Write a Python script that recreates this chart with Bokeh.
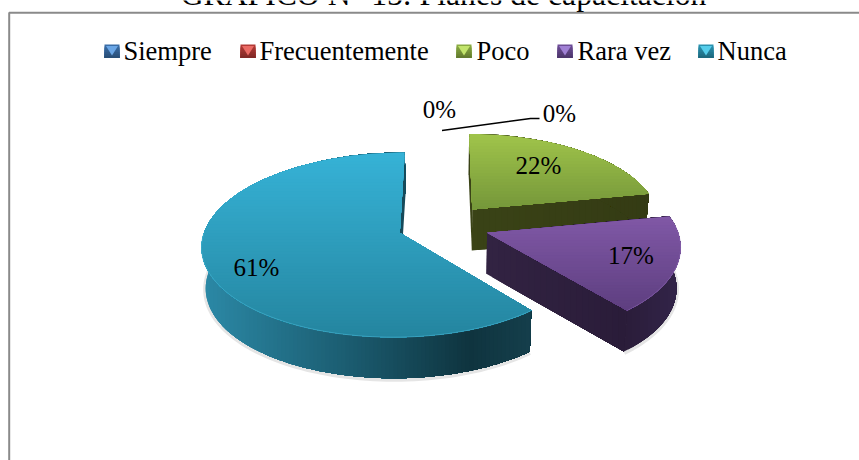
import math
from bokeh.plotting import figure
from bokeh.models import Range1d
from bokeh.embed import file_html
from bokeh.resources import INLINE
from bokeh.core.properties import value

TITLE = "GRAFICO N° 15: Planes de capacitación"
categories = ["Siempre", "Frecuentemente", "Poco", "Rara vez", "Nunca"]
percent = [0, 0, 22, 17, 61]
legend_base = ["#3a6ea8", "#b43a36", "#8aab42", "#6d4d96", "#2a93b0"]
legend_light = ["#6aa6e6", "#ea6a64", "#c2e46c", "#a080d4", "#55cdea"]
legend_x = [104, 240, 456, 557, 698]
text_x = [123, 259, 476, 577, 717]
top_stops = {
    "Poco": [(134, "#9fc34a"), (205, "#76983a")],
    "Rara vez": [(215, "#8058a6"), (310, "#5d3e7f")],
    "Nunca": [(152, "#36b2d6"), (340, "#24849e")],
}
wall_stops = {
    "Poco": [(460, "#3a4316"), (650, "#343b14")],
    "Rara vez": [(485, "#322342"), (620, "#2a1c39"), (682, "#33254a")],
    "Nunca": [(204, "#2b88a5"), (346, "#1b5c70"), (467, "#0f343f"), (530, "#153f4c")],
}
label_pos = {"Poco": (538, 173), "Rara vez": (630.5, 263), "Nunca": (256, 275)}

# perspective model of the pie
CX, CY, A, B, K, EXPLODE, DEPTH, SHRINK = 443.5, 225, 89, 189, 0.128, 0.24, 41, 0.983
LEFT_STRETCH = 1.025
BASE_SHIFT = 0.33  # em, offset of the page's alphabetic text baseline


def project(u, v, low=False):
    w = 1 + K * v
    x, y = CX + B * u * (LEFT_STRETCH if u < 0 else 1) / w, CY - A * v / w
    if low:
        x, y = CX + (x - CX) * SHRINK, y + DEPTH
    return x, y


def hexrgb(c):
    return tuple(int(c[i:i + 2], 16) for i in (1, 3, 5))


def ramp(stops, t):
    if t <= stops[0][0]:
        return stops[0][1]
    for (a, ca), (b, cb) in zip(stops, stops[1:]):
        if t <= b:
            f = (t - a) / (b - a)
            r = [round(p + (q - p) * f) for p, q in zip(hexrgb(ca), hexrgb(cb))]
            return "#%02x%02x%02x" % tuple(r)
    return stops[-1][1]


def clip(poly, axis, level):
    out = []
    for i, p in enumerate(poly):
        q = poly[(i + 1) % len(poly)]
        pin, qin = p[axis] >= level, q[axis] >= level
        if pin:
            out.append(p)
        if pin != qin:
            f = (level - p[axis]) / (q[axis] - p[axis])
            out.append((p[0] + (q[0] - p[0]) * f, p[1] + (q[1] - p[1]) * f))
    return out


p = figure(width=859, height=460, output_backend="svg", toolbar_location=None,
           x_range=Range1d(0, 859), y_range=Range1d(460, 0), min_border=0,
           outline_line_color=None, background_fill_color="white")
p.axis.visible = False
p.grid.visible = False

xs, ys, fills = [], [], []


def add(poly, col):
    xs.append([a for a, _ in poly])
    ys.append([b for _, b in poly])
    fills.append(col)


def banded(poly, axis, stops, step):
    vals = [q[axis] for q in poly]
    lo, hi = min(vals), max(vals)
    add(poly, ramp(stops, lo))
    t = lo + step
    while t < hi:
        c = clip(poly, axis, t)
        if len(c) >= 3:
            add(c, ramp(stops, t))
        t += step


slices = []
acc = 0.0
for name, pct in zip(categories, percent):
    a0, a1 = acc * 3.6, (acc + pct) * 3.6
    acc += pct
    if pct:
        slices.append((name, pct, math.radians(a0), math.radians(a1)))

rims = []
shadows = []
for name, pct, a0, a1 in slices:
    mid = (a0 + a1) / 2
    ox, oy = EXPLODE * math.sin(mid), EXPLODE * math.cos(mid)
    n = max(12, int(pct * 2))
    pts = [(ox + math.sin(a0 + (a1 - a0) * i / n), oy + math.cos(a0 + (a1 - a0) * i / n)) for i in range(n + 1)]
    top_arc = [project(u, v) for u, v in pts]
    low_arc = [project(u, v, True) for u, v in pts]
    apex_t, apex_l = project(ox, oy), project(ox, oy, True)
    shadows.append(low_arc)
    # cut faces, outer wall, then the top face over them
    banded([apex_t, top_arc[0], low_arc[0], apex_l], 0, wall_stops[name], 6)
    banded([apex_t, top_arc[-1], low_arc[-1], apex_l], 0, wall_stops[name], 6)
    banded(top_arc + low_arc[::-1], 0, wall_stops[name], 4)
    banded([apex_t] + top_arc, 1, top_stops[name], 3)
    rims.append((name, top_arc))

for arc in shadows:
    p.line([a for a, _ in arc], [b + 1 for _, b in arc], line_color="#000000", line_alpha=0.10, line_width=5)
p.patches(xs, ys, fill_color=fills, line_color=None)

# soft highlight along the visible front rim
for name, arc in rims:
    front = [q for q in arc if q[1] > CY + 5 or name != "Nunca"]
    if name == "Nunca":
        p.line([a for a, _ in front], [b for _, b in front], line_color="#46b4d2", line_alpha=0.6, line_width=1)
    if name == "Rara vez":
        p.line([a for a, _ in arc], [b for _, b in arc], line_color="#8d68b4", line_alpha=0.5, line_width=1)

# frame
p.line([859, 8.7, 8.7], [12.2, 12.2, 460], line_color="#8a8a8a", line_width=2)

# leader lines of the two empty slices
p.line([441.5, 530, 539], [130, 118, 118], line_color="#000000", line_width=1.6)

# legend
for i, cat in enumerate(categories):
    x0 = legend_x[i]
    x1, y0, y1 = x0 + 15, 44, 57.5
    lx, ly, lf = [], [], []
    for j in range(7):
        t = y0 + (y1 - y0) * j / 7
        lx.append([x0, x1, x1, x0]); ly.append([t, t, y1, y1])
        lf.append(ramp([(0, legend_base[i]), (1, "#%02x%02x%02x" % tuple(int(c * .72) for c in hexrgb(legend_base[i])))], j / 6))
    lx.append([x0 + 1.5, x1 - 1.5, (x0 + x1) / 2]); ly.append([y0 + 1.5, y0 + 1.5, y1 - 2.5]); lf.append(legend_light[i])
    p.patches(lx, ly, fill_color=lf, line_color=None)

font = value("Liberation Serif")
p.text(text_x, [59 - BASE_SHIFT * 26.5] * 5, text=categories, text_font=font, text_font_size="26.5px",
       text_baseline="alphabetic", text_color="#000000")
p.text([443], [4 - BASE_SHIFT * 31.7], text=[TITLE], text_font=font, text_font_size="31.7px", text_align="center",
       text_baseline="alphabetic", text_color="#000000")

lx = [label_pos[c][0] for c in categories if c in label_pos]
ly = [label_pos[c][1] - BASE_SHIFT * 25 for c in categories if c in label_pos]
lt = [f"{v}%" for c, v in zip(categories, percent) if c in label_pos]
p.text(lx + [439, 559], ly + [117 - BASE_SHIFT * 25, 121 - BASE_SHIFT * 25], text=lt + [f"{percent[0]}%", f"{percent[1]}%"], text_font=font,
       text_font_size="25px", text_align="center", text_baseline="alphabetic", text_color="#000000")

open("out.html", "w").write(file_html(p, INLINE))
